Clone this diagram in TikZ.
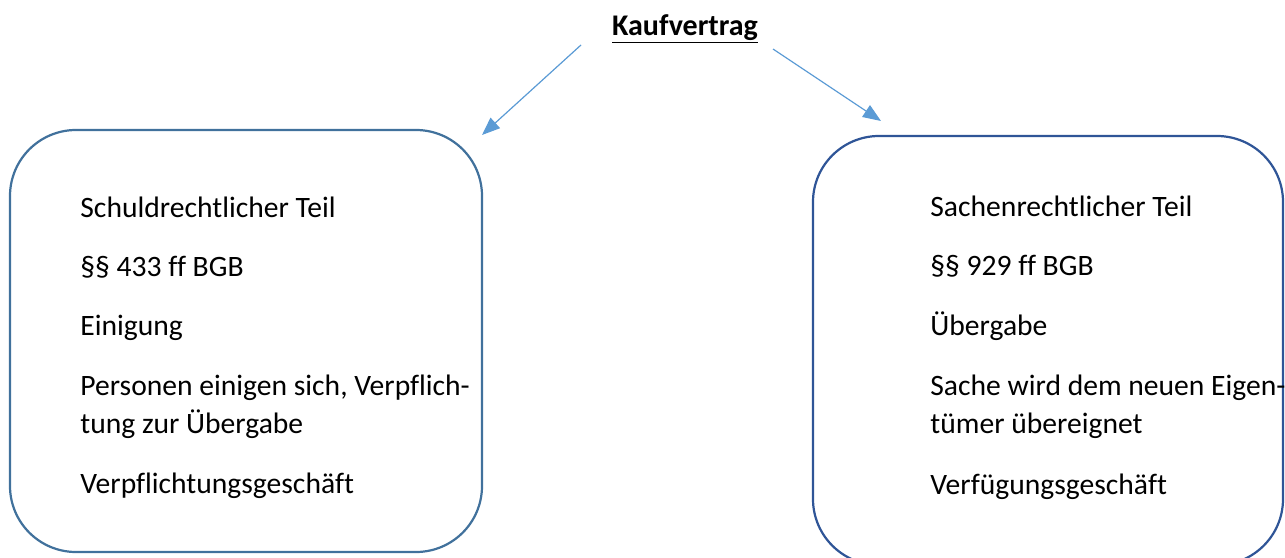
\documentclass[tikz,border=0pt]{standalone}
\usepackage{fontspec}
\setmainfont[Ligatures=NoCommon]{Carlito}
\usetikzlibrary{arrows.meta}
\definecolor{arrowblue}{HTML}{5B9BD5}
\definecolor{boxblueA}{HTML}{41719C}
\definecolor{boxblueB}{HTML}{2F5597}
\tikzset{
  partbox/.style={draw, line width=1.1pt, rounded corners=33pt, inner sep=0pt},
  line/.style={anchor=base west, inner sep=0pt, font=\fontsize{14.8pt}{17pt}\selectfont},
  link/.style={draw=arrowblue, line width=0.6pt, -{Triangle[length=9pt,width=7pt]}, fill=arrowblue},
}
\begin{document}
\begin{tikzpicture}[x=0.5pt,y=-0.5pt]
  \useasboundingbox (0,0) rectangle (1285,557);
  \clip (0,0) rectangle (1285,557);

  % heading
  \node[anchor=base, inner sep=0pt, font=\fontsize{15pt}{18pt}\selectfont\bfseries] (title) at (685,35) {\underline{Kaufvertrag}};

  % the two parts of the contract
  \node[partbox, draw=boxblueA, minimum width=236pt, minimum height=211pt] (left) at (246,341) {};
  \node[partbox, draw=boxblueB, minimum width=235pt, minimum height=214.5pt] (right) at (1048,350.5) {};

  % left text
  \node[line] (l1) at (80,217) {Schuldrechtlicher Teil};
  \node[line] (l2) at (80,276) {§§ 433 ff BGB};
  \node[line] (l3) at (80,335) {Einigung};
  \node[line] (l4) at (80,395) {Personen einigen sich, Verpflich-};
  \node[line] (l5) at (80,433) {tung zur Übergabe};
  \node[line] (l6) at (80,493) {Verpflichtungsgeschäft};

  % right text
  \node[line] (r1) at (930,216) {Sachenrechtlicher Teil};
  \node[line] (r2) at (930,275) {§§ 929 ff BGB};
  \node[line] (r3) at (930,335) {Übergabe};
  \node[line] (r4) at (930,395) {Sache wird dem neuen Eigen-};
  \node[line] (r5) at (930,433) {tümer übereignet};
  \node[line] (r6) at (930,494) {Verfügungsgeschäft};

  % arrows from the heading
  \coordinate (aL0) at (581,45);
  \coordinate (aL1) at (482,135);
  \coordinate (aR0) at (773,49);
  \coordinate (aR1) at (881,121);
  \draw[link] (aL0) -- (aL1);
  \draw[link] (aR0) -- (aR1);
\end{tikzpicture}
\end{document}
